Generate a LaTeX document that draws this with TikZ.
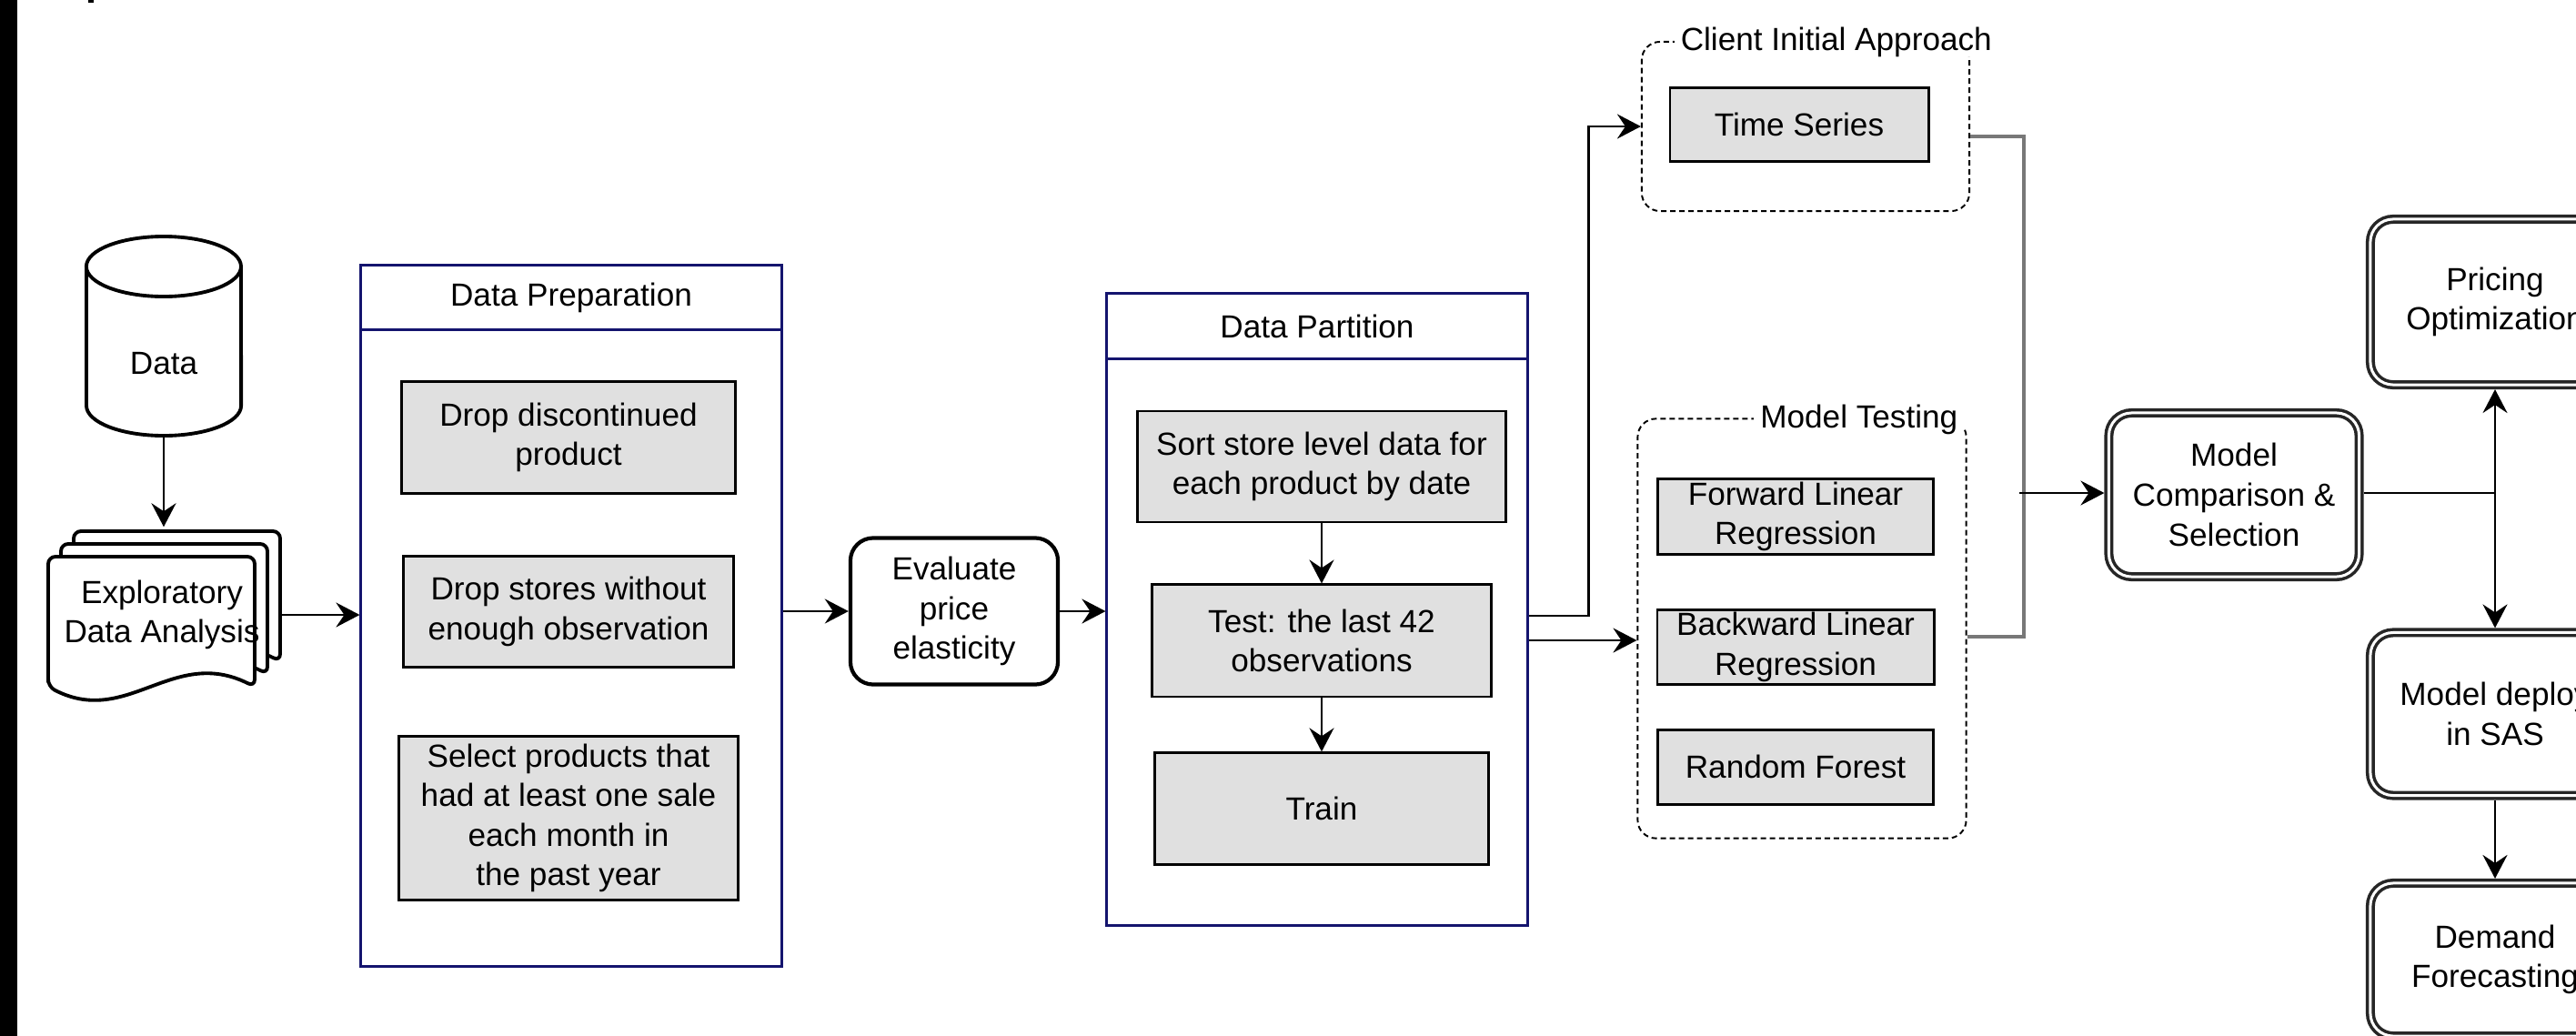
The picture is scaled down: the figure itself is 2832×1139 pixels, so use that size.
\documentclass[tikz,border=0pt]{standalone}
\usepackage{fontspec}
\setmainfont{Liberation Sans}
\usetikzlibrary{positioning,arrows.meta}

\definecolor{navy}{RGB}{20,20,110}
\definecolor{boxgray}{RGB}{224,224,224}
\definecolor{linkgray}{RGB}{120,120,120}

\tikzset{
  stepbox/.style={draw, line width=0.8pt, fill=boxgray, align=center, inner sep=0pt},
  stage/.style={draw=navy, line width=0.8pt, inner sep=0pt},
  stagehead/.style={draw=navy, line width=0.8pt, inner sep=0pt, anchor=north},
  task/.style={draw, line width=1.2pt, rounded corners=0.25cm, align=center, inner sep=0pt},
  approach/.style={draw, dash pattern=on 0.6mm off 0.4mm, line width=0.55pt, rounded corners=0.2cm, inner sep=0pt},
  approachlabel/.style={fill=white, inner xsep=2pt, inner ysep=0pt},
  outcome/.style={draw=black!85, double, double distance=0.85pt, line width=1pt, rounded corners=0.25cm, align=center, inner sep=0pt, outer sep=0.05cm},
  flow/.style={->, line width=0.75pt},
}

\begin{document}
\begin{tikzpicture}[x=0.01cm, y=-0.01cm, >={Stealth[length=2.6mm,width=2.7mm,inset=0.9mm]}, font=\fontsize{10}{12.4}\selectfont]
    \useasboundingbox (0,0) rectangle (2832,1139);
    \clip (0,0) rectangle (2832,1139);
    \fill (0,0) rectangle (19,1139);
    \fill (97,0) rectangle (103,3);

    % data source and EDA
    \draw[line width=1.1pt] (95,293) -- (95,446) arc[start angle=180, end angle=360, x radius=0.85cm, y radius=0.33cm] -- (265,293) arc[start angle=0, end angle=180, x radius=0.85cm, y radius=0.33cm] arc[start angle=180, end angle=360, x radius=0.85cm, y radius=0.33cm];
    \node[minimum width=1.7cm, minimum height=1.58cm] (data) at (180,400) {Data};

    \foreach \d in {28,14,0} {
        \draw[line width=1.1pt, fill=white, rounded corners=0.08cm] ({53+\d},{755-\d}) -- ({53+\d},{612-\d}) -- ({280+\d},{612-\d}) -- ({280+\d},{755-\d}) .. controls ({190+\d},{710-\d}) and ({140+\d},{800-\d}) .. ({53+\d},{755-\d}) -- cycle;
    }
    \node[minimum width=2.6cm, minimum height=1.92cm, align=center] (eda) at (178,676) {Exploratory\\Data Analysis};

    % data preparation
    \node[stage, minimum width=4.62cm, minimum height=7.70cm] (prep) at (628,677) {};
    \node[stagehead, minimum width=4.62cm, minimum height=0.71cm] (prephead) at (prep.north) {Data Preparation};
    \node[stepbox, minimum width=3.66cm, minimum height=1.23cm] (dropprod) at (625,481) {Drop discontinued\\product};
    \node[stepbox, minimum width=3.63cm, minimum height=1.22cm, below=0.66cm of dropprod] (dropstore) {Drop stores without\\enough observation};
    \node[stepbox, minimum width=3.73cm, minimum height=1.80cm, below=0.73cm of dropstore] (selprod) {Select products that\\had at least one sale\\each month in\\the past year};

    \node[task, minimum width=2.28cm, minimum height=1.61cm] (evalel) at (1049,672) {Evaluate\\price\\elasticity};

    % data partition
    \node[stage, minimum width=4.62cm, minimum height=6.94cm] (part) at (1448,670) {};
    \node[stagehead, minimum width=4.62cm, minimum height=0.72cm] (parthead) at (part.north) {Data Partition};
    \node[stepbox, minimum width=4.04cm, minimum height=1.22cm] (sortdata) at (1453,513) {Sort store level data for\\each product by date};
    \node[stepbox, minimum width=3.72cm, minimum height=1.23cm, below=0.66cm of sortdata] (testset) {Test: the last 42\\observations};
    \node[stepbox, minimum width=3.66cm, minimum height=1.23cm, below=0.59cm of testset] (trainset) {Train};

    % candidate models
    \node[approach, minimum width=3.60cm, minimum height=1.86cm] (client) at (1985,139) {};
    \node[approachlabel, anchor=west] (clientlabel) at (1840,46) {Client Initial Approach};
    \node[stepbox, minimum width=2.84cm, minimum height=0.81cm] (timeseries) at (1978,137) {Time Series};

    \node[approach, minimum width=3.61cm, minimum height=4.61cm] (testing) at (1981,691) {};
    \node[approachlabel, anchor=east] (testinglabel) at (2160,461) {Model Testing};
    \node[stepbox, minimum width=3.03cm, minimum height=0.83cm] (fwdlr) at (1974,568) {Forward Linear\\Regression};
    \node[stepbox, minimum width=3.04cm, minimum height=0.82cm, below=0.58cm of fwdlr] (bwdlr) {Backward Linear\\Regression};
    \node[stepbox, minimum width=3.03cm, minimum height=0.82cm, below=0.47cm of bwdlr] (rforest) {Random Forest};

    % selection and use
    \node[outcome, minimum width=2.75cm, minimum height=1.80cm] (compare) at (2456,544) {Model\\Comparison \&\\Selection};
    \node[outcome, minimum width=2.74cm, minimum height=1.82cm] (pricing) at (2743,332) {Pricing\\Optimization};
    \node[outcome, minimum width=2.74cm, minimum height=1.79cm] (deploy) at (2743,785) {Model deploy\\in SAS};
    \node[outcome, minimum width=2.74cm, minimum height=1.68cm] (demand) at (2743,1055) {Demand\\Forecasting};
    \coordinate (merge) at (2225,542);
    \coordinate (split) at (2743,542);

    \draw[flow] (data.south) -- (data.south |- eda.north);
    \draw[flow] (eda.east) -- (eda.east -| prep.west);
    \draw[flow] (prep.east |- evalel.west) -- (evalel.west);
    \draw[flow] (evalel.east) -- (evalel.east -| part.west);
    \draw[flow] (sortdata) -- (testset);
    \draw[flow] (testset.south) -- (testset.south |- trainset.north);
    \draw[flow] ([yshift=-0.07cm]part.east) -- ++(66,0) |- (client.west);
    \draw[flow] ([yshift=-0.34cm]part.east) -- ([yshift=-0.34cm]part.east -| testing.west);

    \draw[linkgray, line width=1.1pt] ([yshift=-0.11cm]client.east) -| (merge) |- ([yshift=-0.09cm]testing.east);
    \draw[flow] ([xshift=-0.05cm]merge) -- (merge -| compare.west);
    \draw[line width=0.75pt] (compare.east |- split) -- (split);
    \draw[flow] (split) -- (pricing);
    \draw[flow] (split) -- (deploy);
    \draw[flow] (deploy) -- (demand);
\end{tikzpicture}
\end{document}
